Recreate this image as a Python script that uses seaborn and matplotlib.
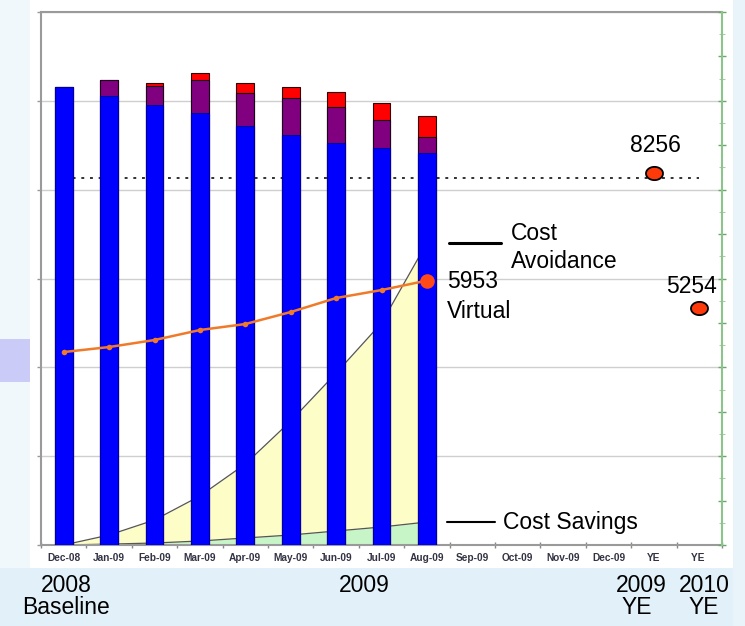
import numpy as np
import pandas as pd
import matplotlib
matplotlib.use("Agg")
import matplotlib.pyplot as plt
from matplotlib.patches import Rectangle
import seaborn as sns

sns.set_theme(style="white")
plt.rcParams['font.family'] = ['Liberation Sans', 'DejaVu Sans']
plt.rcParams['text.color'] = 'black'

# ---------------- data ----------------
categories = ["Dec-08", "Jan-09", "Feb-09", "Mar-09", "Apr-09", "May-09", "Jun-09",
              "Jul-09", "Aug-09", "Sep-09", "Oct-09", "Nov-09", "Dec-09", "YE", "YE "]
bar_months = categories[:9]
blue_vals = [10317, 10114, 9904, 9718, 9439, 9229, 9042, 8930, 8817]
purple_vals = [0, 354, 434, 750, 729, 826, 810, 637, 374]
red_vals = [0, 0, 60, 150, 239, 261, 351, 375, 465]
virtual_vals = [4344, 4457, 4615, 4840, 4975, 5245, 5560, 5740, 5953]
avoidance_vals = [0, 225, 563, 1103, 1823, 2790, 3870, 4997, 6800]
savings_vals = [0, 20, 45, 90, 158, 225, 315, 405, 518]
target_value = 8256
ye_cats = [13, 14]
ye_marker_vals = [8370, 5335]
ye_labels = ["8256", "5254"]
virtual_label = "5953"

W, H = 745, 626
fig = plt.figure(figsize=(W / 100, H / 100), dpi=100)
fig.patch.set_facecolor("#e6f3fa")

def fx(px):
    return px / W

def fy(py):
    return 1 - py / H

# white panel and lavender tab (background decoration)
fig.patches.append(Rectangle((fx(0), fy(626)), 1, 1, transform=fig.transFigure,
                             facecolor="#f1f8fc", edgecolor="none", zorder=-1))
fig.patches.append(Rectangle((fx(0), fy(626)), 1, fy(568) - fy(626) + 0.0,
                             transform=fig.transFigure, facecolor="#e2f1f9",
                             edgecolor="none", zorder=-0.5))
fig.patches.append(Rectangle((fx(733), fy(626)), 1, 1, transform=fig.transFigure,
                             facecolor="#e8f4fa", edgecolor="none", zorder=-0.5))
fig.patches.append(Rectangle((fx(30), fy(568)), fx(733) - fx(30), fy(0) - fy(568),
                             transform=fig.transFigure, facecolor="white",
                             edgecolor="none", zorder=0))
fig.patches.append(Rectangle((fx(0), fy(382)), fx(30), fy(339) - fy(382),
                             transform=fig.transFigure, facecolor="#cbcbf8",
                             edgecolor="none", zorder=0))

ax = fig.add_axes([fx(41), fy(545), fx(722) - fx(41), fy(12) - fy(545)])
ax.set_facecolor("white")
ax.set_zorder(2)

xs = np.arange(len(bar_months))
blue = np.array(blue_vals)
purple = blue + np.array(purple_vals)
total = purple + np.array(red_vals)

# areas (behind bars)
ax.fill_between(xs, savings_vals, avoidance_vals, color="#fdfdc8", zorder=1, lw=0)
ax.fill_between(xs, 0, savings_vals, color="#c8f5c8", zorder=1, lw=0)
ax.plot(xs, avoidance_vals, color="#555555", lw=0.9, zorder=1.5)
ax.plot(xs, savings_vals, color="#555555", lw=0.9, zorder=1.5)

df = pd.DataFrame({"month": bar_months, "blue": blue, "purple": purple, "total": total})
order = categories
sns.barplot(data=df, x="month", y="total", order=order, color="#ff0000",
            width=0.39, edgecolor="#330000", linewidth=0.8, saturation=1,
            ax=ax, zorder=3)
sns.barplot(data=df, x="month", y="purple", order=order, color="#800080",
            width=0.39, edgecolor="#1a001a", linewidth=0.8, saturation=1,
            ax=ax, zorder=3)
sns.barplot(data=df, x="month", y="blue", order=order, color="#0000ff",
            width=0.39, edgecolor="#0000a0", linewidth=0.8, saturation=1,
            ax=ax, zorder=3)

# virtual line
vdf = pd.DataFrame({"x": xs, "v": virtual_vals})
sns.lineplot(data=vdf, x="x", y="v", color="#f07a2a", lw=1.8, marker="o",
             markersize=4, markeredgewidth=0, ax=ax, zorder=5)
ax.plot([xs[-1]], [virtual_vals[-1]], "o", color="#ff4a18", markersize=10.5,
        markeredgewidth=0, zorder=6)

# target dotted line
ax.plot([0, len(categories) - 1], [target_value, target_value], color="#222222",
        lw=1.3, linestyle=(0, (1.6, 3.2)), zorder=2)

# YE markers (ellipses)
t = np.linspace(0, 2 * np.pi, 60)
ell = np.column_stack([np.cos(t), 0.78 * np.sin(t)])
ax.scatter(ye_cats, ye_marker_vals, marker=ell, s=150, color="#ff3a0a",
           edgecolors="black", linewidths=1.3, zorder=6)

ax.set_xlim(-0.5, len(categories) - 0.5)
ax.set_ylim(0, 12000)
ax.set_xlabel("")
ax.set_ylabel("")
ax.set_yticks(np.arange(0, 12001, 2000))
ax.set_yticklabels([])
ax.yaxis.grid(True, color="#cfcfcf", lw=1.0, zorder=0)
ax.xaxis.grid(False)
ax.set_axisbelow(True)
ax.tick_params(axis="y", left=True, length=3, width=1, color="#999999", direction="out")
ax.set_xticks(np.arange(len(categories)))
ax.set_xticklabels(categories, fontsize=7.3, fontweight="bold", color="#333344")
ax.tick_params(axis="x", which="major", length=0, pad=6)
ax.set_xticks(np.arange(-0.5, len(categories)), minor=True)
ax.tick_params(axis="x", which="minor", bottom=True, length=5, width=1,
               color="#888888", direction="inout")
for s in ["left", "top", "bottom"]:
    ax.spines[s].set_color("#9a9a9a")
    ax.spines[s].set_linewidth(1.5)
ax.spines["right"].set_visible(False)

ax2 = ax.twinx()
ax2.set_ylim(0, 12000)
ax2.set_yticks(np.arange(0, 12001, 1000))
ax2.set_yticks(np.arange(500, 12000, 1000), minor=True)
ax2.set_yticklabels([])
ax2.tick_params(axis="y", which="major", right=True, length=6, width=1,
                color="#6aa86a", direction="inout")
ax2.tick_params(axis="y", which="minor", right=True, length=4, width=0.8,
                color="#a8cfa8", direction="inout")
ax2.grid(False)
for s in ["left", "top", "bottom"]:
    ax2.spines[s].set_visible(False)
ax2.spines["right"].set_color("#8cc48c")
ax2.spines["right"].set_linewidth(1.5)

# annotations
fs = 16.5
fig.text(fx(655), fy(146), ye_labels[0], fontsize=fs, ha="center", va="center", color="black", zorder=10)
fig.text(fx(691), fy(286), ye_labels[1], fontsize=fs, ha="center", va="center", color="black", zorder=10)
fig.text(fx(447), fy(282), virtual_label, fontsize=fs, ha="left", va="center", color="black", zorder=10)
fig.text(fx(447), fy(312), "Virtual", fontsize=fs, ha="left", va="center", color="black", zorder=10)
fig.text(fx(511), fy(233), "Cost", fontsize=fs, ha="left", va="center", color="black", zorder=10)
fig.text(fx(511), fy(261), "Avoidance", fontsize=fs, ha="left", va="center", color="black", zorder=10)
fig.text(fx(503), fy(523), "Cost Savings", fontsize=fs, ha="left", va="center", color="black", zorder=10)
fig.add_artist(plt.Line2D([fx(449), fx(501)], [fy(243), fy(243)], color="black", lw=2.2,
                          transform=fig.transFigure, zorder=10))
fig.add_artist(plt.Line2D([fx(447), fx(495)], [fy(522), fy(522)], color="black", lw=1.5,
                          transform=fig.transFigure, zorder=10))

# bottom group labels
fig.text(fx(66), fy(592), "2008", fontsize=fs, ha="center", va="baseline", color="black")
fig.text(fx(66), fy(614), "Baseline", fontsize=fs, ha="center", va="baseline", color="black")
fig.text(fx(364), fy(592), "2009", fontsize=fs, ha="center", va="baseline", color="black")
fig.text(fx(641), fy(592), "2009", fontsize=fs, ha="center", va="baseline", color="black")
fig.text(fx(704), fy(592), "2010", fontsize=fs, ha="center", va="baseline", color="black")
fig.text(fx(637), fy(614), "YE", fontsize=fs, ha="center", va="baseline", color="black")
fig.text(fx(704), fy(614), "YE", fontsize=fs, ha="center", va="baseline", color="black")

fig.savefig("out.png", dpi=100, facecolor=fig.get_facecolor())
